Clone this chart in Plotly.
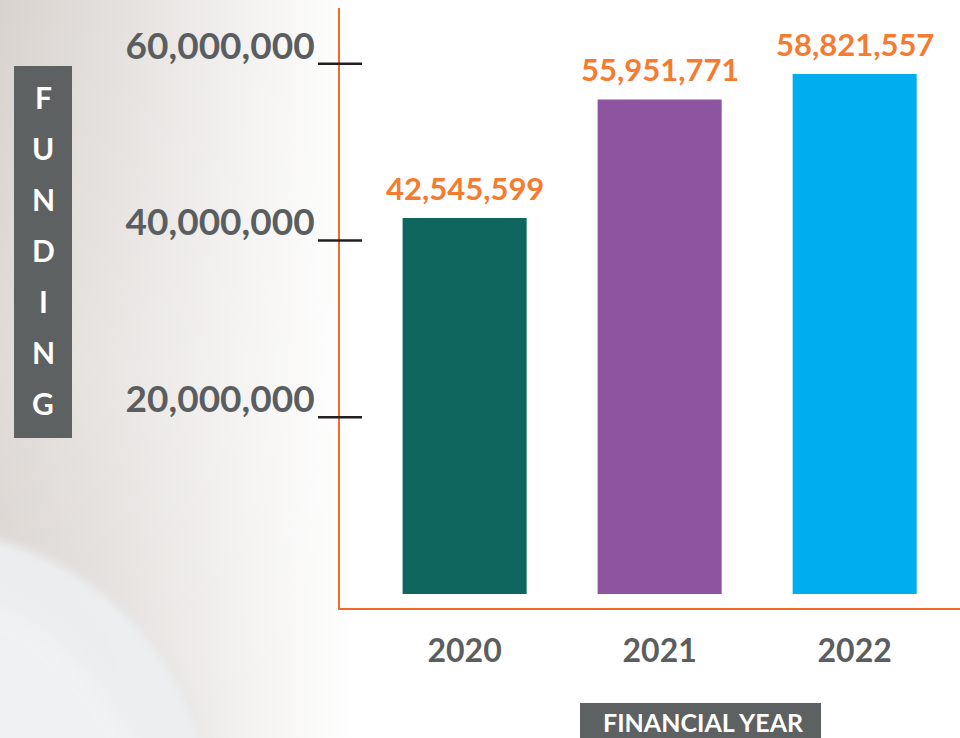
import plotly.graph_objects as go
import urllib.parse

# ---- data ----
years = ["2020", "2021", "2022"]
funding = [42545599, 55951771, 58821557]
bar_colors = ["#0e665f", "#8d55a0", "#00aeef"]
tick_values = [20000000, 40000000, 60000000]
tick_labels = [f"{v:,}" for v in tick_values]
y_title_letters = list("FUNDING")
x_title = "FINANCIAL YEAR"

# ---- figure geometry (pixels) ----
W, H = 960, 738
ML, MR, MT, MB = 340, 0, 8, 130
PW, PH = W - ML - MR, H - MT - MB


def px_x(p):
    return (p - ML) / PW


def px_y(p):
    return (H - MB - p) / PH


GRAY = "#5b5e60"
ORANGE = "#f26a25"
LABEL_ORANGE = "#f47b30"
FONT = "Lato"

fig = go.Figure()
fig.add_trace(go.Bar(
    x=years, y=funding, marker=dict(color=bar_colors, line=dict(width=0)),
    width=0.636, hoverinfo="x+y", showlegend=False,
))

# value labels above bars (x given as category index)
for i, v in enumerate(funding):
    fig.add_annotation(x=i, y=v, text=f"{v:,}", showarrow=False,
                       xref="x", yref="y",
                       yanchor="bottom", yshift=9,
                       font=dict(family=FONT, size=31, color=LABEL_ORANGE, weight="bold"))

# background (soft photo-like gradient)
svg = f"""<svg xmlns='http://www.w3.org/2000/svg' width='{W}' height='{H}' viewBox='0 0 {W} {H}' preserveAspectRatio='none'>
<defs>
<linearGradient id='g' x1='0' y1='0' x2='1' y2='0'>
<stop offset='0' stop-color='#d9d3cf'/>
<stop offset='0.12' stop-color='#e4e0dd'/>
<stop offset='0.22' stop-color='#efedeb'/>
<stop offset='0.29' stop-color='#f7f6f5'/>
<stop offset='0.37' stop-color='#ffffff'/>
</linearGradient>
<linearGradient id='v' x1='0' y1='0' x2='0' y2='1'>
<stop offset='0' stop-color='#ffffff' stop-opacity='0'/>
<stop offset='0.5' stop-color='#ffffff' stop-opacity='0.2'/>
<stop offset='1' stop-color='#ffffff' stop-opacity='0'/>
</linearGradient>
<filter id='f'><feGaussianBlur stdDeviation='4'/></filter>
<filter id='f2'><feGaussianBlur stdDeviation='10'/></filter>
</defs>
<rect width='{W}' height='{H}' fill='url(#g)'/>
<rect width='{W}' height='{H}' fill='url(#v)'/>
<circle cx='-80' cy='830' r='300' fill='#e4e4e5' opacity='0.6' filter='url(#f2)'/>
<circle cx='-80' cy='820' r='290' fill='#eef0f2' opacity='0.85' filter='url(#f)'/>
<circle cx='-120' cy='860' r='280' fill='#f2f3f4' opacity='0.8' filter='url(#f2)'/>
</svg>"""
fig.add_layout_image(
    source="data:image/svg+xml;charset=utf-8," + urllib.parse.quote(svg),
    xref="paper", yref="paper", x=px_x(0), y=px_y(0),
    sizex=W / PW, sizey=H / PH, sizing="stretch",
    xanchor="left", yanchor="top", layer="below",
)

# tick marks crossing the y axis line
for tv in tick_values:
    fig.add_shape(type="line", xref="paper", yref="y",
                  x0=px_x(318), x1=px_x(362), y0=tv, y1=tv,
                  line=dict(color="#231f20", width=2.5))

# FUNDING vertical label box
fig.add_shape(type="rect", xref="paper", yref="paper",
              x0=px_x(14), x1=px_x(72), y0=px_y(438), y1=px_y(66),
              fillcolor="#5d6162", line=dict(width=0), layer="above")
for i, ch in enumerate(y_title_letters):
    fig.add_annotation(xref="paper", yref="paper", x=px_x(43), y=px_y(97 + 51 * i),
                       text=ch, showarrow=False, xanchor="center", yanchor="middle",
                       font=dict(family=FONT, size=30, color="white", weight="bold"))

# FINANCIAL YEAR box
fig.add_shape(type="rect", xref="paper", yref="paper",
              x0=px_x(580), x1=px_x(821), y0=px_y(745), y1=px_y(703),
              fillcolor="#5d6162", line=dict(width=0), layer="above")
fig.add_annotation(xref="paper", yref="paper", x=px_x(703), y=px_y(722),
                   text=x_title, showarrow=False, xanchor="center", yanchor="middle",
                   font=dict(family=FONT, size=25, color="white", weight="bold"))

fig.update_layout(
    width=W, height=H,
    margin=dict(l=ML, r=MR, t=MT, b=MB, pad=0),
    paper_bgcolor="white", plot_bgcolor="rgba(0,0,0,0)",
    font=dict(family=FONT),
    showlegend=False,
    xaxis=dict(
        type="category",
        range=[-0.639, 2.54], showgrid=False, zeroline=False,
        showline=True, linecolor=ORANGE, linewidth=2,
        ticks="", ticklabelstandoff=14,
        tickfont=dict(family=FONT, size=32, color=GRAY, weight="bold"),
    ),
    yaxis=dict(
        range=[-1.58e6, 66.3e6], showgrid=False, zeroline=False,
        showline=True, linecolor=ORANGE, linewidth=2,
        ticks="", tickvals=tick_values, ticktext=tick_labels,
        ticklabelstandoff=16, ticklabelshift=-18,
        tickfont=dict(family=FONT, size=37, color=GRAY, weight="bold"),
    ),
)

fig.write_html("out.html",
               config={"displayModeBar": False},
               post_script="document.body.style.margin='0';document.body.style.overflow='hidden';")
